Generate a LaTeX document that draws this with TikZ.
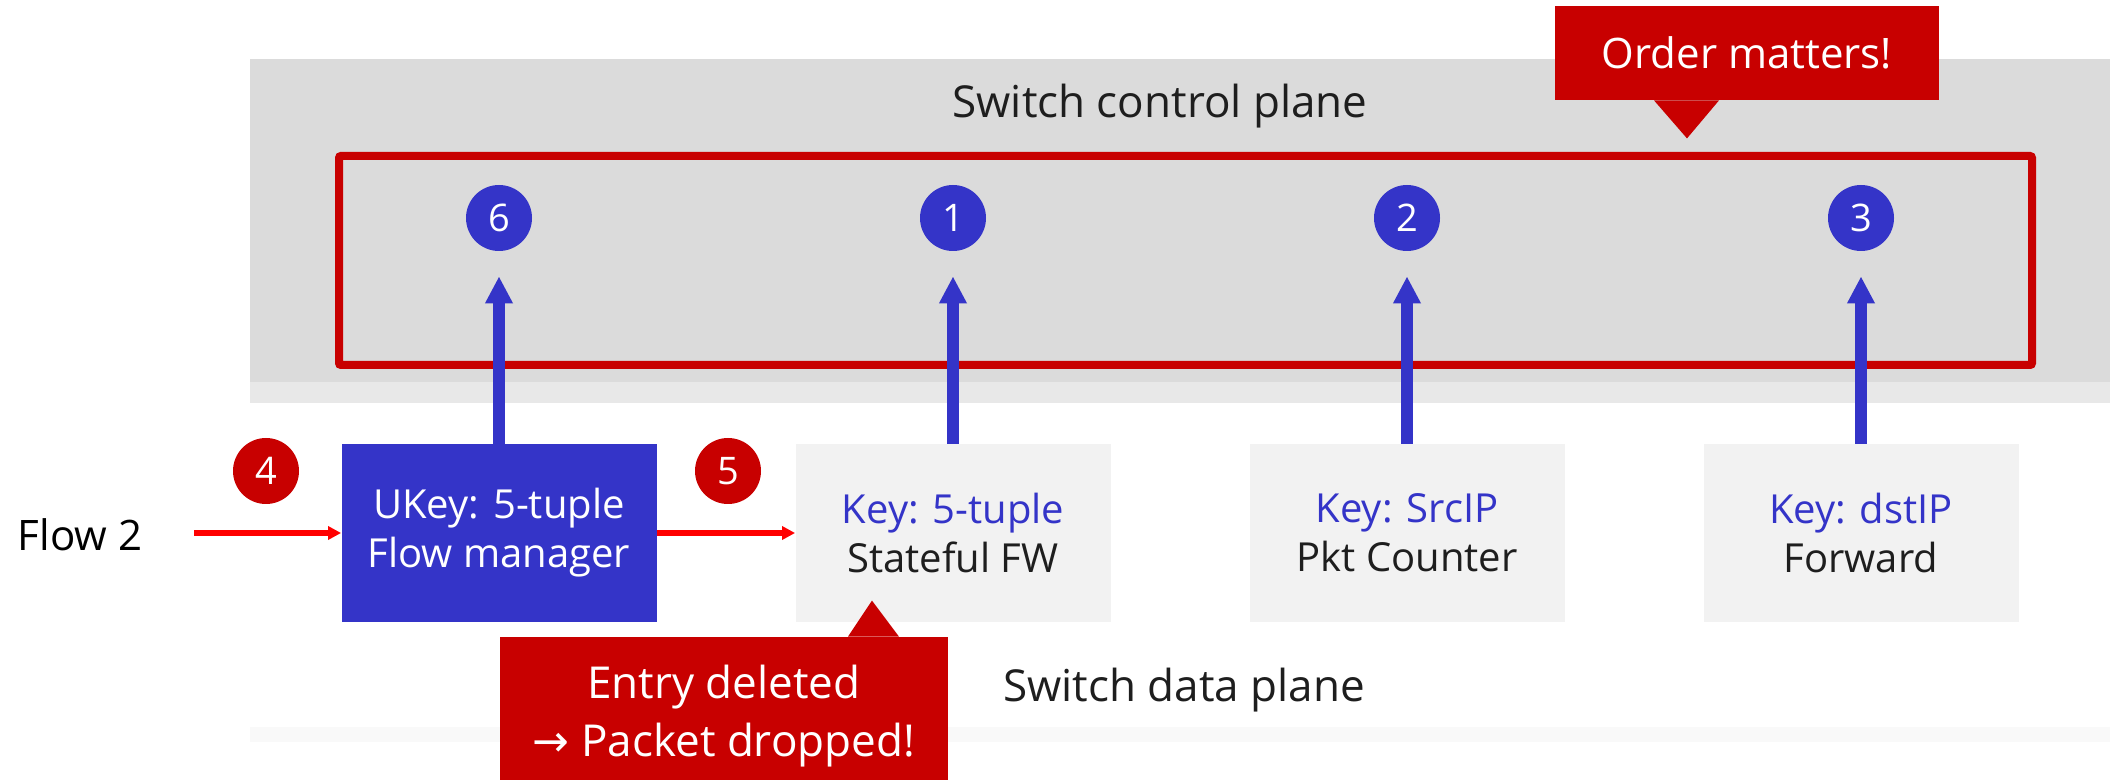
\documentclass[tikz,border=0pt]{standalone}
\usepackage{fontspec}
\setmainfont{Open Sans}
\newfontfamily\arrowfont{DejaVu Sans}
\usetikzlibrary{positioning,arrows.meta,calc}
\definecolor{ctlblue}{HTML}{3434C8}
\definecolor{darkred}{HTML}{C80000}
\definecolor{flowred}{HTML}{FF0000}
\definecolor{ctlgray}{HTML}{DBDBDB}
\definecolor{shadegray}{HTML}{E8E8E8}
\definecolor{tblgray}{HTML}{F2F2F2}
\definecolor{inkgray}{HTML}{1E1E1E}
\tikzset{
  planelbl/.style={font=\fontsize{22}{26}\selectfont,text=inkgray},
  tblbox/.style={fill=tblgray,minimum width=157.5pt,minimum height=89pt,
    align=center,inner sep=0pt,text=inkgray,font=\fontsize{20}{24.5}\selectfont},
  mgrbox/.style={tblbox,fill=ctlblue,text=white},
  ctlnum/.style={circle,fill=ctlblue,text=white,minimum size=33pt,inner sep=0pt,
    font=\fontsize{19}{22}\selectfont},
  evnum/.style={ctlnum,fill=darkred},
  ctlarr/.style={-{Triangle[length=13.5pt,width=13pt]},line width=6pt,ctlblue,
    shorten >=12.5pt},
  flowarr/.style={-{Triangle[length=6.5pt,width=6.5pt]},line width=3pt,flowred},
  redframe/.style={draw=darkred,line width=4pt,rounded corners=1pt},
  calloutbox/.style={fill=darkred,text=white,align=center,inner sep=0pt},
}
\begin{document}
\begin{tikzpicture}[x=0.5pt,y=-0.5pt]
  \useasboundingbox (0,0) rectangle (2110,780);
  \fill[white] (0,0) rectangle (2110,780);
  % planes
  \fill[ctlgray] (250,59) rectangle (2110,382);
  \fill[shadegray] (250,382) rectangle (2110,403);
  \fill[tblgray!50] (250,727) rectangle (2110,742);
  \fill[white] (250,403) rectangle (2110,727);
  \node[planelbl] (ctlplane) at (1160,106) {Switch control plane};
  \node[planelbl] (dataplane) at (1184,690) {Switch data plane};
  \draw[redframe] (339,156) rectangle (2032,365);
  % control plane handlers
  \foreach \n/\x/\d in {c6/499/6,c1/953/1,c2/1407/2,c3/1861/3}
    \node[ctlnum] (\n) at (\x,218) {\d};
  % data plane tables
  \node[mgrbox] (fm) at (499,533) {UKey: 5-tuple\\Flow manager};
  \foreach \n/\x/\k/\f in {fw/953/5-tuple/Stateful FW,pc/1407/SrcIP/Pkt Counter,
      fwd/1861/dstIP/Forward}
    \node[tblbox] (\n) at (\x,533) {\textcolor{ctlblue}{Key: \k}\\\f};
  \foreach \t/\c in {fm/c6,fw/c1,pc/c2,fwd/c3}
    \draw[ctlarr] (\t.north) -- (\c.south);
  % flow 2
  \node[font=\fontsize{21}{25}\selectfont] (flow) at (80,535) {Flow 2};
  \coordinate (flowin) at (194,533);
  \draw[flowarr] (flowin) -- (fm.west);
  \draw[flowarr] (fm.east) -- (fw.west);
  \node[evnum] (e4) at (266,471) {4};
  \node[evnum] (e5) at (728,471) {5};
  % callouts
  \node[calloutbox,minimum width=192pt,minimum height=47pt,
    font=\fontsize{21}{25}\selectfont] (order) at (1747,53) {Order matters!};
  \fill[darkred] ($(order.south)+(-93,0)$) -- ($(order.south)+(-28,0)$)
    -- ($(order.south)+(-60,38)$) -- cycle;
  \node[calloutbox,minimum width=224pt,minimum height=79.5pt,
    font=\fontsize{22}{29}\selectfont] (drop) at (724,716.5)
    {Entry deleted\\{\arrowfont →} Packet dropped!};
  \fill[darkred] ($(drop.north)+(124,0)$) -- ($(drop.north)+(175,0)$)
    -- ($(drop.north)+(148,-36)$) -- cycle;
\end{tikzpicture}
\end{document}
